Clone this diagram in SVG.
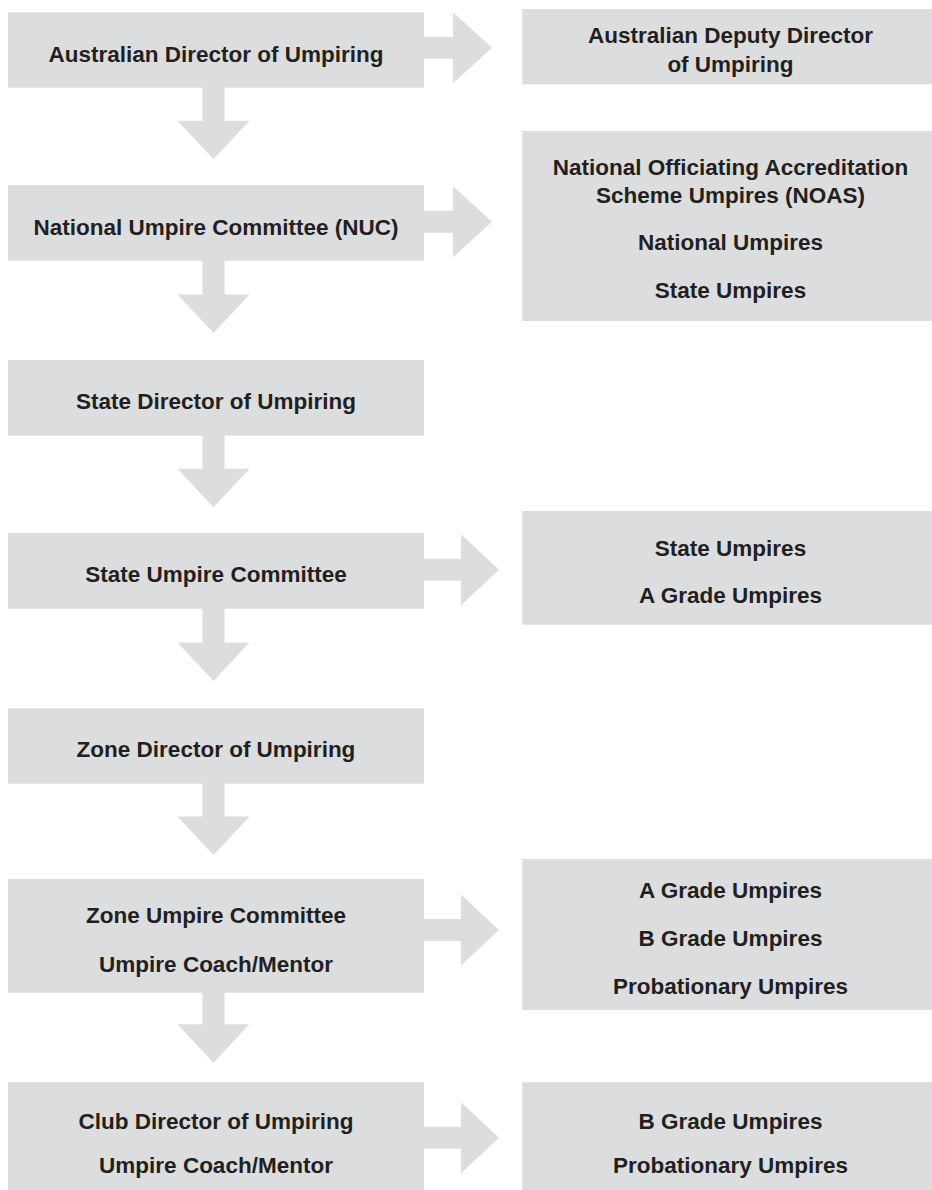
<svg xmlns="http://www.w3.org/2000/svg" width="932" height="1190" viewBox="0 0 932 1190">
<style>
.box{fill:#dcdddf}
.arr{fill:#dcdddf}
text{font-family:"Liberation Sans",Arial,sans-serif;font-weight:bold;font-size:22.5px;fill:#231f20;text-anchor:middle}
</style>
<rect width="932" height="1190" fill="#ffffff"/>
<g id="connectors">
<polygon class="arr" points="202.5,87 224.5,87 224.5,120.8 249.5,120.8 213.5,159.3 177.5,120.8 202.5,120.8"/>
<polygon class="arr" points="202.5,260 224.5,260 224.5,294.5 249.5,294.5 213.5,333 177.5,294.5 202.5,294.5"/>
<polygon class="arr" points="202.5,435 224.5,435 224.5,468.8 249.5,468.8 213.5,507.3 177.5,468.8 202.5,468.8"/>
<polygon class="arr" points="202.5,608 224.5,608 224.5,642.5 249.5,642.5 213.5,681 177.5,642.5 202.5,642.5"/>
<polygon class="arr" points="202.5,783 224.5,783 224.5,816.5 249.5,816.5 213.5,855 177.5,816.5 202.5,816.5"/>
<polygon class="arr" points="202.5,992 224.5,992 224.5,1024.2 249.5,1024.2 213.5,1062.7 177.5,1024.2 202.5,1024.2"/>
<polygon class="arr" points="423,36.8 453,36.8 453,12.3 492,47.8 453,83.3 453,58.8 423,58.8"/>
<polygon class="arr" points="423,210.8 453,210.8 453,186.3 492,221.8 453,257.3 453,232.8 423,232.8"/>
<polygon class="arr" points="423,558.8 461,558.8 461,534.3 499,569.8 461,605.3 461,580.8 423,580.8"/>
<polygon class="arr" points="423,919 461,919 461,894.5 499,930 461,965.5 461,941 423,941"/>
<polygon class="arr" points="423,1126.8 461,1126.8 461,1102.3 499,1137.8 461,1173.3 461,1148.8 423,1148.8"/>
</g>
<g id="australian-director">
<rect class="box" x="8" y="12.3" width="416" height="75.4"/>
<text x="216" y="61.7">Australian Director of Umpiring</text>
</g>
<g id="deputy-director">
<rect class="box" x="522.3" y="9" width="409.7" height="75.3"/>
<text x="730.5" y="43.3">Australian Deputy Director</text>
<text x="730.5" y="71.7">of Umpiring</text>
</g>
<g id="nuc">
<rect class="box" x="8" y="185" width="416" height="75.7"/>
<text x="216" y="235">National Umpire Committee (NUC)</text>
</g>
<g id="noas">
<rect class="box" x="522.3" y="131" width="409.7" height="190"/>
<text x="730.5" y="175">National Officiating Accreditation</text>
<text x="730.5" y="203.3">Scheme Umpires (NOAS)</text>
<text x="730.5" y="250">National Umpires</text>
<text x="730.5" y="297.7">State Umpires</text>
</g>
<g id="state-director">
<rect class="box" x="8" y="360" width="416" height="75.7"/>
<text x="216" y="409">State Director of Umpiring</text>
</g>
<g id="state-committee">
<rect class="box" x="8" y="533" width="416" height="75.7"/>
<text x="216" y="581.7">State Umpire Committee</text>
</g>
<g id="state-umpires">
<rect class="box" x="522.3" y="511" width="409.7" height="113.7"/>
<text x="730.5" y="556">State Umpires</text>
<text x="730.5" y="602.7">A Grade Umpires</text>
</g>
<g id="zone-director">
<rect class="box" x="8" y="708.3" width="416" height="75.4"/>
<text x="216" y="757.3">Zone Director of Umpiring</text>
</g>
<g id="zone-committee">
<rect class="box" x="8" y="879" width="416" height="113.7"/>
<text x="216" y="923.3">Zone Umpire Committee</text>
<text x="216" y="971.7">Umpire Coach/Mentor</text>
</g>
<g id="zone-umpires">
<rect class="box" x="522.3" y="859" width="409.7" height="151"/>
<text x="730.5" y="897.7">A Grade Umpires</text>
<text x="730.5" y="945.7">B Grade Umpires</text>
<text x="730.5" y="993.5">Probationary Umpires</text>
</g>
<g id="club-director">
<rect class="box" x="8" y="1082.3" width="416" height="107.7"/>
<text x="216" y="1129">Club Director of Umpiring</text>
<text x="216" y="1173.3">Umpire Coach/Mentor</text>
</g>
<g id="club-umpires">
<rect class="box" x="522.3" y="1082.3" width="409.7" height="107.7"/>
<text x="730.5" y="1129">B Grade Umpires</text>
<text x="730.5" y="1173.3">Probationary Umpires</text>
</g>
</svg>
